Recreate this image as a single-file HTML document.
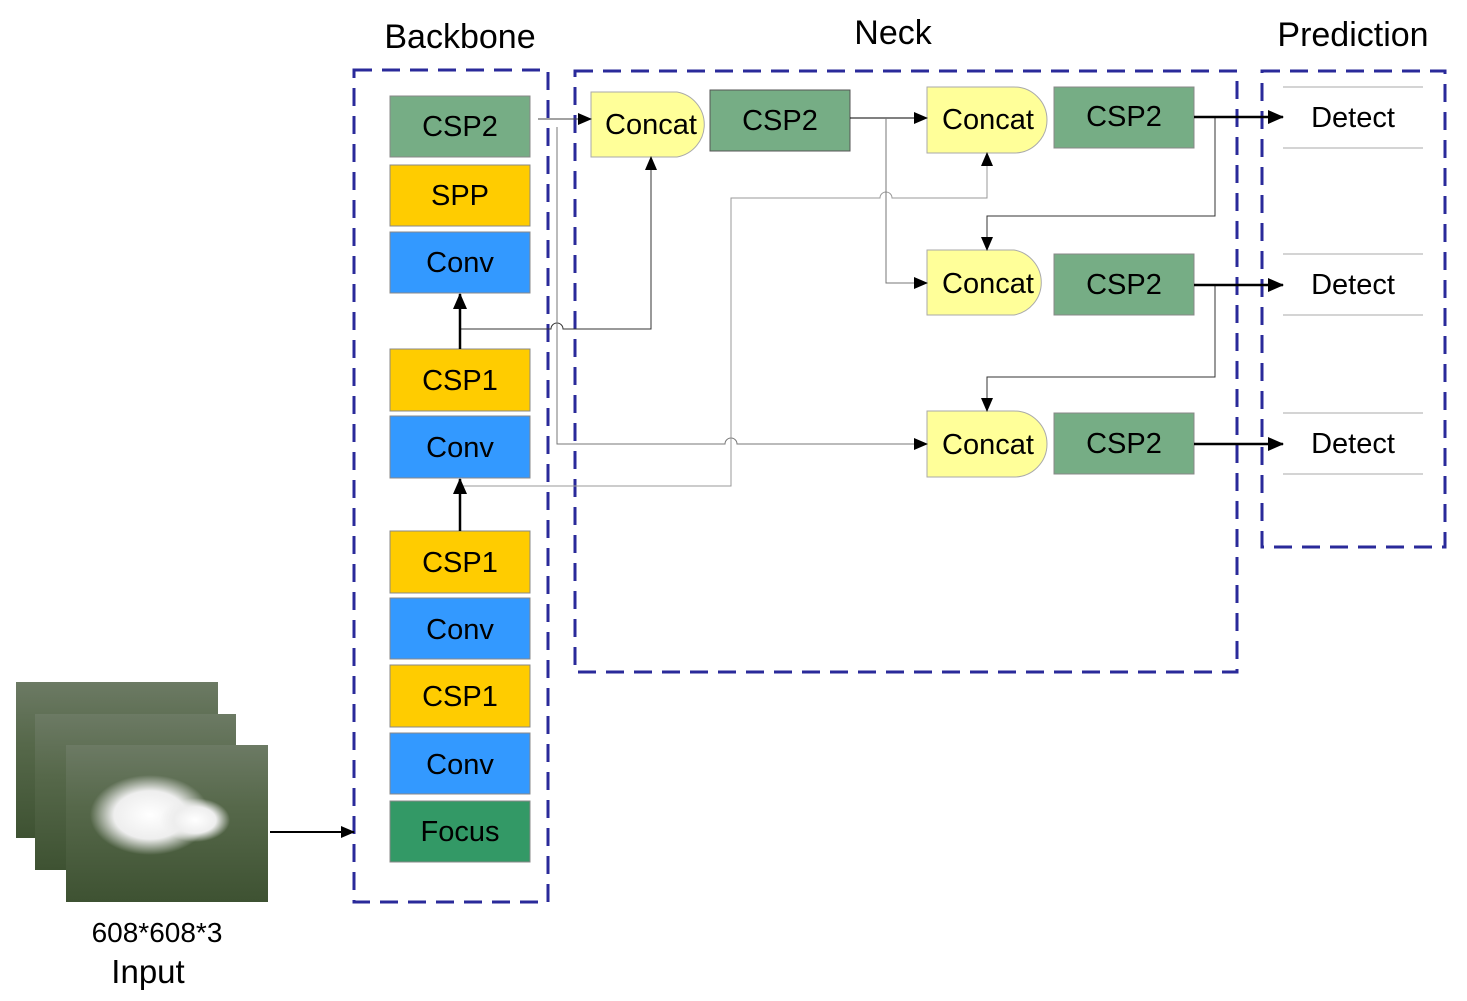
<!DOCTYPE html>
<html><head><meta charset="utf-8"><style>body{margin:0;background:#fff}svg{display:block}text{font-family:"Liberation Sans",Arial,sans-serif}</style></head><body>
<svg width="1467" height="1001" viewBox="0 0 1467 1001" xmlns="http://www.w3.org/2000/svg">
<defs>
<marker id="a" markerWidth="14" markerHeight="14" refX="13" refY="7" orient="auto" markerUnits="userSpaceOnUse"><path d="M0,1 L14,7 L0,13 z" fill="#000"/></marker>
<marker id="b" markerWidth="16" markerHeight="16" refX="15" refY="8" orient="auto" markerUnits="userSpaceOnUse"><path d="M0,1 L16,8 L0,15 z" fill="#000"/></marker>
<linearGradient id="g" x1="0" y1="0" x2="0" y2="1"><stop offset="0" stop-color="#6c7a64"/><stop offset="0.4" stop-color="#56684a"/><stop offset="1" stop-color="#3e5232"/></linearGradient>
<radialGradient id="s" cx="0.5" cy="0.5" r="0.5"><stop offset="0" stop-color="#fff"/><stop offset="0.6" stop-color="#eee"/><stop offset="1" stop-color="#eee" stop-opacity="0"/></radialGradient>
</defs>
<g font-size="34" text-anchor="middle">
<text x="460" y="48">Backbone</text><text x="893" y="44">Neck</text><text x="1353" y="46">Prediction</text>
</g>
<g fill="none" stroke="#2a2a9a" stroke-width="3" stroke-dasharray="18 10">
<rect x="354" y="70" width="194" height="832"/>
<rect x="575" y="71" width="662" height="601"/>
<rect x="1262" y="71" width="183" height="476"/>
</g>
<rect x="16" y="682" width="202" height="156" fill="url(#g)"/>
<rect x="35" y="714" width="201" height="156" fill="url(#g)"/>
<rect x="66" y="745" width="202" height="157" fill="url(#g)"/>
<ellipse cx="150" cy="815" rx="60" ry="40" fill="url(#s)"/>
<ellipse cx="195" cy="820" rx="35" ry="22" fill="url(#s)"/>
<g font-size="29" text-anchor="middle" stroke-width="1">
<rect x="390" y="96" width="140" height="61" fill="#76ad85" stroke="#888"/><text x="460" y="136">CSP2</text>
<rect x="390" y="165" width="140" height="61" fill="#ffcc00" stroke="#888"/><text x="460" y="205">SPP</text>
<rect x="390" y="232" width="140" height="61" fill="#3399ff" stroke="#888"/><text x="460" y="272">Conv</text>
<rect x="390" y="349" width="140" height="62" fill="#ffcc00" stroke="#888"/><text x="460" y="390">CSP1</text>
<rect x="390" y="416" width="140" height="62" fill="#3399ff" stroke="#888"/><text x="460" y="457">Conv</text>
<rect x="390" y="531" width="140" height="62" fill="#ffcc00" stroke="#888"/><text x="460" y="572">CSP1</text>
<rect x="390" y="598" width="140" height="61" fill="#3399ff" stroke="#888"/><text x="460" y="639">Conv</text>
<rect x="390" y="665" width="140" height="62" fill="#ffcc00" stroke="#888"/><text x="460" y="706">CSP1</text>
<rect x="390" y="733" width="140" height="61" fill="#3399ff" stroke="#888"/><text x="460" y="774">Conv</text>
<rect x="390" y="801" width="140" height="61" fill="#339966" stroke="#888"/><text x="460" y="841">Focus</text>
<path d="M591,92 H677 A33,33 0 0 1 677,157 H591 Z" fill="#ffff99" stroke="#aaa"/><text x="651" y="134">Concat</text>
<rect x="710" y="90" width="140" height="61" fill="#76ad85" stroke="#555"/><text x="780" y="130">CSP2</text>
<path d="M927,87 H1014 A33,33 0 0 1 1014,153 H927 Z" fill="#ffff99" stroke="#aaa"/><text x="988" y="129">Concat</text>
<rect x="1054" y="87" width="140" height="61" fill="#76ad85" stroke="#888"/><text x="1124" y="126">CSP2</text>
<path d="M927,250 H1014 A33,33 0 0 1 1014,315 H927 Z" fill="#ffff99" stroke="#aaa"/><text x="988" y="293">Concat</text>
<rect x="1054" y="254" width="140" height="61" fill="#76ad85" stroke="#888"/><text x="1124" y="294">CSP2</text>
<path d="M927,411 H1014 A33,33 0 0 1 1014,477 H927 Z" fill="#ffff99" stroke="#aaa"/><text x="988" y="454">Concat</text>
<rect x="1054" y="413" width="140" height="61" fill="#76ad85" stroke="#888"/><text x="1124" y="453">CSP2</text>
<g fill="none" stroke="#aaa"><path d="M1283,87 H1423 M1283,148 H1423 M1283,254 H1423 M1283,315 H1423 M1283,413 H1423 M1283,474 H1423"/></g>
<text x="1353" y="127">Detect</text><text x="1353" y="294">Detect</text><text x="1353" y="453">Detect</text>
</g>
<g fill="none" stroke="#000" stroke-width="1">
<path d="M538,119 H591" stroke="#444" marker-end="url(#a)"/>
<path d="M460,329 H551 A6,6 0 0 1 563,329 H651 V157" stroke="#333" marker-end="url(#a)"/>
<path d="M557,127 V444 H725 A6,6 0 0 1 737,444 H927" stroke="#777" marker-end="url(#a)"/>
<path d="M460,486 H731 V198 H880 A6,6 0 0 1 892,198 H987 V153" stroke="#999" marker-end="url(#a)"/>
<path d="M850,118 H927" marker-end="url(#a)"/>
<path d="M886,118 V283 H927" stroke="#777" marker-end="url(#a)"/>
<path d="M1215,117 V216 H987 V250" stroke="#333" marker-end="url(#a)"/>
<path d="M1215,285 V377 H987 V411" stroke="#333" marker-end="url(#a)"/>
<path d="M270,832 H354" stroke-width="2" marker-end="url(#a)"/>
</g>
<g fill="none" stroke="#000" stroke-width="2.5">
<path d="M460,349 V294" marker-end="url(#b)"/>
<path d="M460,531 V479" marker-end="url(#b)"/>
<path d="M1194,117 H1283" marker-end="url(#b)"/>
<path d="M1194,285 H1283" marker-end="url(#b)"/>
<path d="M1194,444 H1283" marker-end="url(#b)"/>
</g>
<text x="157" y="942" font-size="28" text-anchor="middle">608*608*3</text>
<text x="148" y="983" font-size="33" text-anchor="middle">Input</text>
</svg>
</body></html>
